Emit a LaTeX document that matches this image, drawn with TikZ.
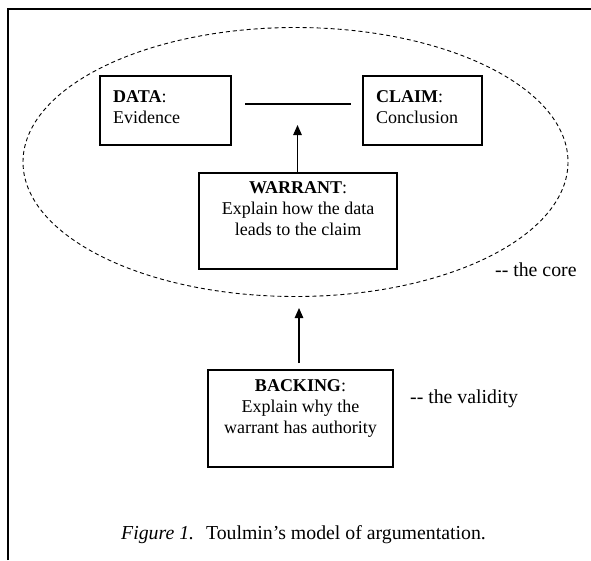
\documentclass[tikz,border=0pt]{standalone}
\usepackage{fontspec}
\setmainfont{Liberation Serif}
\usetikzlibrary{arrows.meta}
\begin{document}
\begin{tikzpicture}[x=1pt,y=-1pt,
  box/.style={draw, line width=1.6pt, rectangle, inner sep=0pt},
  txt/.style={inner sep=0pt, font=\fontsize{18}{21}\selectfont},
  note/.style={inner sep=0pt, font=\fontsize{19.8}{23}\selectfont},
  conn/.style={line width=1.2pt},
  arr/.style={line width=1.2pt, -{Triangle[length=10pt,width=8.5pt]}},
]
\useasboundingbox (0,0) rectangle (591,560);
\fill[white] (0,0) rectangle (591,560);

% open frame: top and left edges only
\coordinate (fbl) at (8,560);
\coordinate (ftl) at (8,8.5);
\coordinate (ftr) at (591,8.5);
\draw[line width=2pt] (fbl) -- (ftl) -- (ftr);

% the core region
\draw[dash pattern=on 4pt off 3pt, line width=0.9pt] (295.5,162) ellipse [x radius=272.5, y radius=134.5];

% boxes
\node[box, minimum width=131, minimum height=69] (data) at (165.5,110.5) {};
\node[box, minimum width=119, minimum height=69] (claim) at (422.5,110.5) {};
\node[box, minimum width=198, minimum height=96] (warrant) at (298,221) {};
\node[box, minimum width=185, minimum height=97] (backing) at (300.5,418.5) {};

% box texts
\node[txt, anchor=west, align=left] (datatxt) at (113,107) {\textbf{DATA}:\\Evidence};
\node[txt, anchor=west, align=left] (claimtxt) at (376,107) {\textbf{CLAIM}:\\Conclusion};
\node[txt, anchor=north, align=center] (warranttxt) at (298,181) {\textbf{WARRANT}:\\Explain how the data\\leads to the claim};
\node[txt, anchor=north, align=center] (backingtxt) at (300.5,379) {\textbf{BACKING}:\\Explain why the\\warrant has authority};

% side notes
\node[note, anchor=west] (corenote) at (495,270) {-{}- the core};
\node[note, anchor=west] (validnote) at (410,399) {-{}- the validity};

% connectors
\coordinate (lineL) at (245,104);
\coordinate (lineR) at (351,104);
\draw[conn] (lineL) -- (lineR);
\coordinate (wtip) at (297.5,125);
\draw[arr] (warrant.north -| wtip) -- (wtip);
\coordinate (btail) at (299,363);
\coordinate (btip) at (299,308);
\draw[arr] (btail) -- (btip);

% caption
\node[note, anchor=base west] (caption) at (121,539) {\textit{Figure 1.}\hspace{0.6em}Toulmin’s model of argumentation.};
\end{tikzpicture}
\end{document}
